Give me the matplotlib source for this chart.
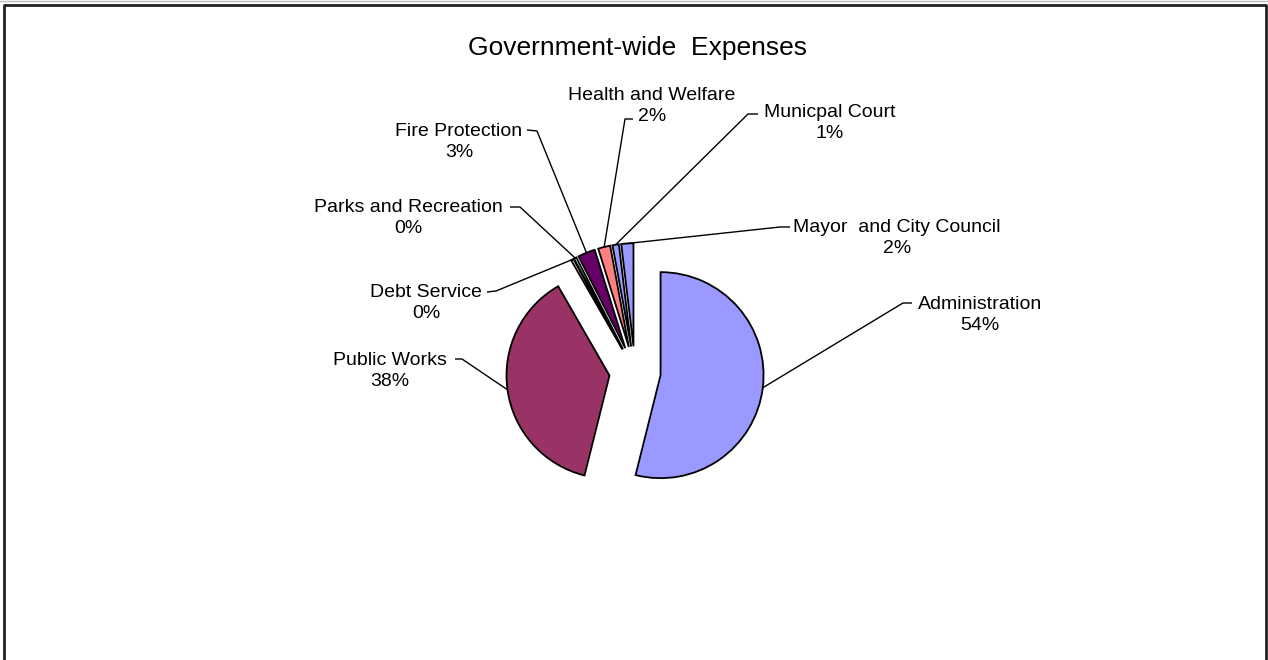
import numpy as np
import matplotlib
matplotlib.use("Agg")
import matplotlib.pyplot as plt

plt.rcParams['font.family'] = ['Liberation Sans', 'DejaVu Sans']

# data
categories = ['Administration', 'Public Works', 'Debt Service', 'Parks and Recreation',
              'Fire Protection', 'Health and Welfare', 'Municpal Court', 'Mayor  and City Council']
shares = [53.9, 37.8, 0.4, 0.4, 2.7, 1.9, 1.0, 1.9]
colors = ['#9999FF', '#993366', '#FFFFCC', '#CCFFFF', '#660066', '#FF8080', '#9999FF', '#9999FF']

# label layout in pixel coords (x, y from top): text block center, elbow, line start
label_pos = [(980, 315), (390, 371), (426, 303), (408, 218),
             (459, 142), (652, 106), (830, 123), (897, 238)]
elbow = [((912, 303), (903, 303)), ((455, 359), (462, 359)), ((487, 292), (496, 291)),
         ((510, 207), (520, 207)), ((527, 130), (537, 131)), ((633, 119), (625, 119)),
         ((758, 114), (748, 114)), ((790, 227), (780, 227))]

W, H = 1268, 660
fig = plt.figure(figsize=(W / 100, H / 100), dpi=100)
ax = fig.add_axes([0, 0, 1, 1])

R = 103
wedges, _ = ax.pie(shares, center=(635, H - 372), radius=R, explode=[0.25 * R] * len(shares),
                   startangle=90, counterclock=False, colors=colors,
                   wedgeprops=dict(edgecolor='black', linewidth=1.3))
ax.set_xlim(0, W)
ax.set_ylim(0, H)
ax.set_aspect('equal')
ax.axis('off')

total = sum(shares)
for w, name, val, (tx, ty), (p0, p1) in zip(wedges, categories, shares, label_pos, elbow):
    mid = np.deg2rad((w.theta1 + w.theta2) / 2)
    cx, cy = w.center
    ex, ey = cx + w.r * np.cos(mid), cy + w.r * np.sin(mid)
    ax.plot([p0[0], p1[0], ex], [H - p0[1], H - p1[1], ey], color='black', lw=1.0,
            solid_capstyle='butt')
    ax.text(tx, H - ty, f"{name}\n{round(val / total * 100):.0f}%", ha='center', va='center',
            fontsize=14, linespacing=1.38)

ax.text(637, H - 48, 'Government-wide  Expenses', ha='center', va='center', fontsize=19)

# chart frame
ax.plot([4, 4, 1266, 1266], [0, H - 5, H - 5, 0], color='#222222', lw=2.0, clip_on=False)
ax.plot([0, W], [H - 0.5, H - 0.5], color='#bbbbbb', lw=1.0, clip_on=False)

fig.savefig('out.png', dpi=100)
